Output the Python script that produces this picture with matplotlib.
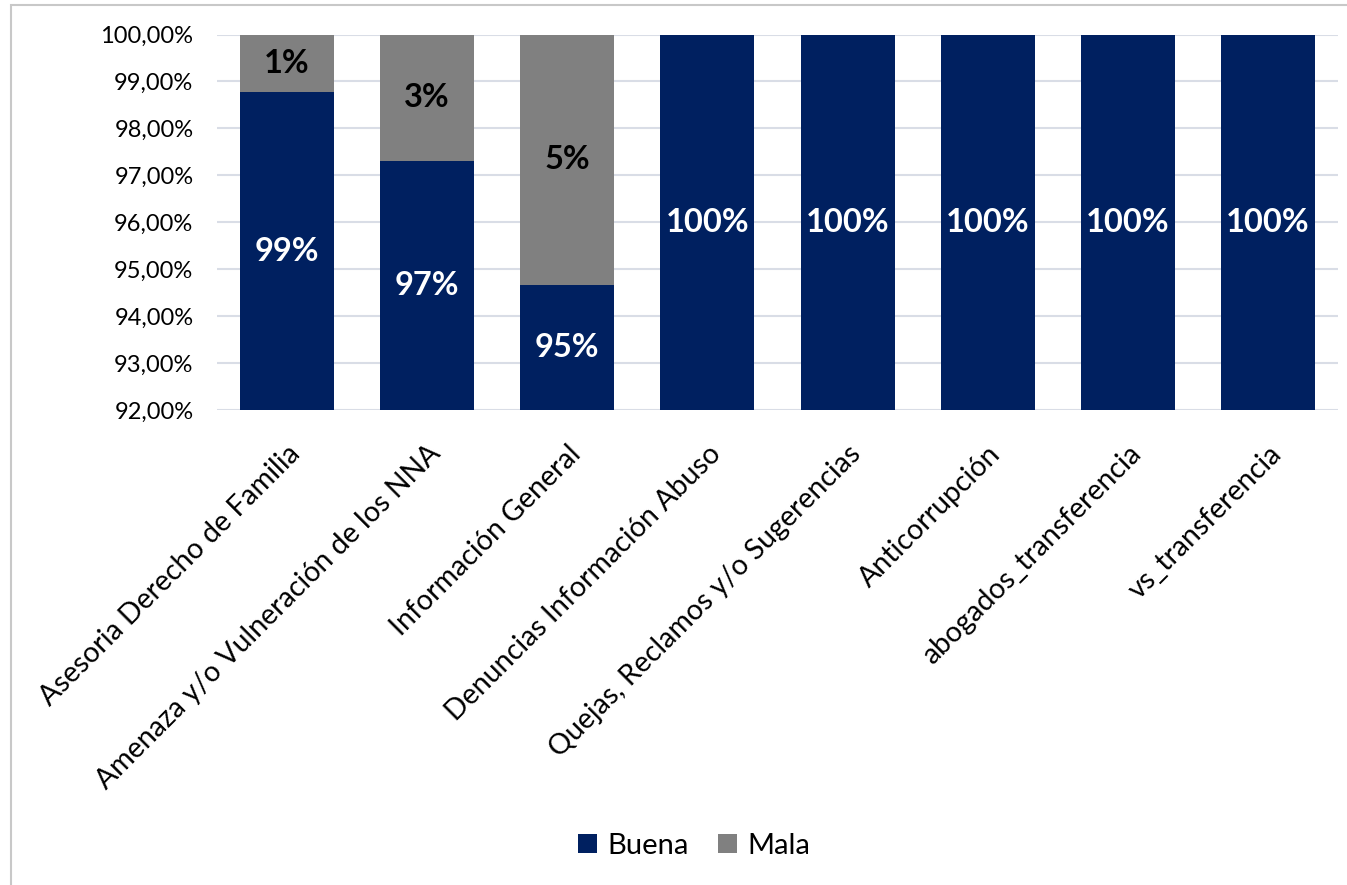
import matplotlib
matplotlib.use("Agg")
from matplotlib import pyplot as plt
from matplotlib.patches import Rectangle
import numpy as np

# Satisfaction per service line (percent)
categorias = [
    "Asesoria Derecho de Familia",
    "Amenaza y/o Vulneración de los NNA",
    "Información General",
    "Denuncias Información Abuso",
    "Quejas, Reclamos y/o Sugerencias",
    "Anticorrupción",
    "abogados_transferencia",
    "vs_transferencia",
]
buena = [98.77, 97.30, 94.67, 100.0, 100.0, 100.0, 100.0, 100.0]
mala = [1.23, 2.70, 5.33, 0.0, 0.0, 0.0, 0.0, 0.0]
y_ticks = [92, 93, 94, 95, 96, 97, 98, 99, 100]

NAVY = "#002060"
GRAY = "#808080"

plt.rcParams["font.family"] = ["Lato", "DejaVu Sans"]

fig = plt.figure(figsize=(13.47, 8.85), dpi=100)
ax = fig.add_axes([217 / 1347, 1 - 410 / 885, 1121 / 1347, 375.5 / 885])

x = np.arange(len(categorias))
w = 0.67
ax.bar(x, buena, w, color=NAVY, label="Buena", zorder=2)
ax.bar(x, mala, w, bottom=buena, color=GRAY, label="Mala", zorder=2)

# value labels centred in the visible part of each segment
lo = y_ticks[0]
for i in range(len(x)):
    b = buena[i]
    ax.text(x[i], (lo + b) / 2, f"{b:.0f}%", ha="center", va="center",
            color="white", fontsize=23.5, fontweight="bold", zorder=3)
    if mala[i] > 0:
        ax.text(x[i], b + mala[i] / 2, f"{mala[i]:.0f}%", ha="center", va="center",
                color="black", fontsize=23.5, fontweight="bold", zorder=3)

ax.set_xlim(-0.5, len(x) - 0.5)
ax.set_ylim(y_ticks[0], y_ticks[-1])
ax.set_yticks(y_ticks)
ax.set_yticklabels([f"{v:.2f}%".replace(".", ",") for v in y_ticks], fontsize=17)
ax.set_xticks(x)
ax.set_xticklabels(categorias, rotation=45, ha="right", rotation_mode="anchor",
                   fontsize=20.5)
ax.tick_params(axis="both", length=0, colors="black")
ax.tick_params(axis="y", pad=17)
ax.tick_params(axis="x", pad=22)
ax.grid(axis="y", color="#D9DDE6", linewidth=1.5, zorder=0)
for s in ax.spines.values():
    s.set_visible(False)

fig.legend(loc="center", bbox_to_anchor=(694 / 1347, 1 - 846 / 885), ncol=2,
           frameon=False, fontsize=21, handlelength=0.65, handleheight=0.65,
           handletextpad=0.35, columnspacing=1.0)

# chart area border
fig.patches.append(Rectangle((11 / 1347, -0.05), 1.1, 1 - 5 / 885 + 0.05,
                             transform=fig.transFigure, fill=False,
                             edgecolor="#C8C8C8", linewidth=1.5))

fig.savefig("out.png", dpi=100)
